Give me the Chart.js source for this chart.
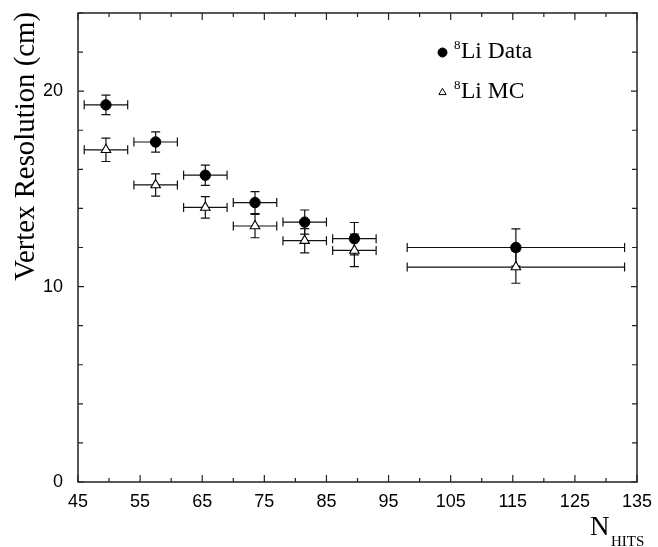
<!DOCTYPE html>
<html>
<head>
<meta charset="utf-8">
<title>Vertex Resolution vs NHITS</title>
<script src="https://cdn.jsdelivr.net/npm/chart.js@4.4.1/dist/chart.umd.min.js"></script>
<style>
  html, body { margin: 0; padding: 0; background: #fff; }
  #chart { display: block; }
</style>
</head>
<body>
<canvas id="chart" width="658" height="547"></canvas>
<script>
/* =========================
   DATA
========================= */

const nhitsCenters = [49.5, 57.5, 65.5, 73.5, 81.5, 89.5, 115.5];
const nhitsHalfWidths = [3.5, 3.5, 3.5, 3.5, 3.5, 3.5, 17.5];

const dataRes = [19.3, 17.4, 15.7, 14.3, 13.3, 12.45, 12.0];
const dataErr = [0.5, 0.52, 0.52, 0.56, 0.62, 0.83, 0.95];

const mcRes = [17.0, 15.2, 14.05, 13.1, 12.35, 11.85, 11.0];
const mcErr = [0.6, 0.57, 0.55, 0.6, 0.62, 0.83, 0.83];

const xTickLabels = [45, 55, 65, 75, 85, 95, 105, 115, 125, 135];
const yTickLabels = [0, 10, 20];

const SANS = "'Liberation Sans', Arial, Helvetica, sans-serif";
const SERIF = "'Liberation Serif', 'Times New Roman', Times, serif";

/* =========================
   PLUGINS
========================= */

// error bars: horizontal bin width + vertical resolution error, with caps
const errorBars = {
  id: "errorBars",
  beforeDatasetsDraw(chart) {
    const { ctx, scales: { x, y } } = chart;
    const sets = [
      { vals: dataRes, errs: dataErr },
      { vals: mcRes, errs: mcErr }
    ];
    const cap = 4.5;

    ctx.save();
    ctx.strokeStyle = "#111";
    ctx.lineWidth = 1.2;

    sets.forEach(set => {
      nhitsCenters.forEach((cx, i) => {
        const px = x.getPixelForValue(cx);
        const py = y.getPixelForValue(set.vals[i]);
        const xl = x.getPixelForValue(cx - nhitsHalfWidths[i]);
        const xr = x.getPixelForValue(cx + nhitsHalfWidths[i]);
        const yt = y.getPixelForValue(set.vals[i] + set.errs[i]);
        const yb = y.getPixelForValue(set.vals[i] - set.errs[i]);

        ctx.beginPath();
        ctx.moveTo(xl, py); ctx.lineTo(xr, py);
        ctx.moveTo(xl, py - cap); ctx.lineTo(xl, py + cap);
        ctx.moveTo(xr, py - cap); ctx.lineTo(xr, py + cap);
        ctx.moveTo(px, yt); ctx.lineTo(px, yb);
        ctx.moveTo(px - cap, yt); ctx.lineTo(px + cap, yt);
        ctx.moveTo(px - cap, yb); ctx.lineTo(px + cap, yb);
        ctx.stroke();
      });
    });
    ctx.restore();
  }
};

// frame with inward ticks on all four sides, titles and legend
const frameAndText = {
  id: "frameAndText",
  afterDraw(chart) {
    const { ctx, chartArea: a, scales: { x, y } } = chart;

    ctx.save();
    ctx.strokeStyle = "#222";
    ctx.lineWidth = 1.5;
    ctx.strokeRect(a.left, a.top, a.right - a.left, a.bottom - a.top);

    ctx.lineWidth = 1.2;
    ctx.beginPath();
    x.ticks.forEach(t => {
      const px = x.getPixelForValue(t.value);
      const len = xTickLabels.includes(t.value) ? 7 : 4;
      ctx.moveTo(px, a.bottom); ctx.lineTo(px, a.bottom - len);
      ctx.moveTo(px, a.top); ctx.lineTo(px, a.top + len);
    });
    y.ticks.forEach(t => {
      const py = y.getPixelForValue(t.value);
      const len = yTickLabels.includes(t.value) ? 6 : 5;
      ctx.moveTo(a.left, py); ctx.lineTo(a.left + len, py);
      ctx.moveTo(a.right, py); ctx.lineTo(a.right - len, py);
    });
    ctx.stroke();

    // y title, aligned to the top of the axis
    ctx.fillStyle = "#000";
    ctx.save();
    ctx.translate(26, a.top - 1);
    ctx.rotate(-Math.PI / 2);
    ctx.font = "28.8px " + SERIF;
    ctx.textAlign = "right";
    ctx.textBaseline = "middle";
    ctx.fillText("Vertex Resolution (cm)", 0, 0);
    ctx.restore();

    // x title N_HITS
    ctx.textAlign = "left";
    ctx.textBaseline = "alphabetic";
    ctx.font = "27px " + SERIF;
    ctx.fillText("N", 590, 535);
    ctx.font = "15px " + SERIF;
    ctx.fillText("HITS", 611, 546);

    // legend
    const legend = [
      { style: "circle", r: 4.5, fill: "#000", text: "Li Data", yText: 58 },
      { style: "triangle", r: 4.2, fill: "#fff", text: "Li MC", yText: 98 }
    ];
    legend.forEach(item => {
      ctx.fillStyle = item.fill;
      ctx.strokeStyle = "#000";
      ctx.lineWidth = 1;
      Chart.helpers.drawPoint(ctx, {
        pointStyle: item.style,
        radius: item.r,
        rotation: 0,
        borderWidth: 1
      }, 442.5, item.yText - 5.5);
      ctx.fillStyle = "#000";
      ctx.font = "13px " + SERIF;
      ctx.fillText("8", 454, item.yText - 9);
      ctx.font = "23.5px " + SERIF;
      ctx.fillText(item.text, 461, item.yText);
    });

    ctx.restore();
  }
};

/* =========================
   CHART
========================= */

function renderChart() {
  const canvas = document.getElementById("chart");

  new Chart(canvas, {
    type: "scatter",
    data: {
      datasets: [
        {
          label: "8Li Data",
          data: nhitsCenters.map((v, i) => ({ x: v, y: dataRes[i] })),
          pointStyle: "circle",
          pointRadius: 5.2,
          backgroundColor: "#000",
          borderColor: "#000",
          borderWidth: 1
        },
        {
          label: "8Li MC",
          data: nhitsCenters.map((v, i) => ({ x: v, y: mcRes[i] })),
          pointStyle: "triangle",
          pointRadius: 5.5,
          backgroundColor: "#fff",
          borderColor: "#000",
          borderWidth: 1.1
        }
      ]
    },
    options: {
      responsive: false,
      animation: false,
      events: [],
      layout: {
        padding: { top: 13, right: 21, left: 0, bottom: 0 }
      },
      plugins: {
        legend: { display: false },
        tooltip: { enabled: false }
      },
      scales: {
        x: {
          type: "linear",
          min: 45,
          max: 135,
          afterFit: s => {
            s.height = 65;
            s.paddingLeft = 0;
            s.paddingRight = 0;
          },
          border: { display: false },
          grid: { display: false, drawTicks: false },
          ticks: {
            stepSize: 5,
            autoSkip: false,
            maxRotation: 0,
            padding: 9,
            color: "#000",
            font: { family: SANS, size: 18 },
            callback: v => xTickLabels.includes(v) ? String(v) : ""
          }
        },
        y: {
          min: 0,
          max: 24,
          afterFit: s => {
            s.width = 78;
            s.paddingTop = 0;
            s.paddingBottom = 0;
          },
          border: { display: false },
          grid: { display: false, drawTicks: false },
          ticks: {
            stepSize: 2,
            autoSkip: false,
            padding: 15,
            color: "#000",
            font: { family: SANS, size: 18 },
            callback: v => yTickLabels.includes(v) ? String(v) : ""
          }
        }
      }
    },
    plugins: [errorBars, frameAndText]
  });
}

renderChart();
</script>
</body>
</html>
